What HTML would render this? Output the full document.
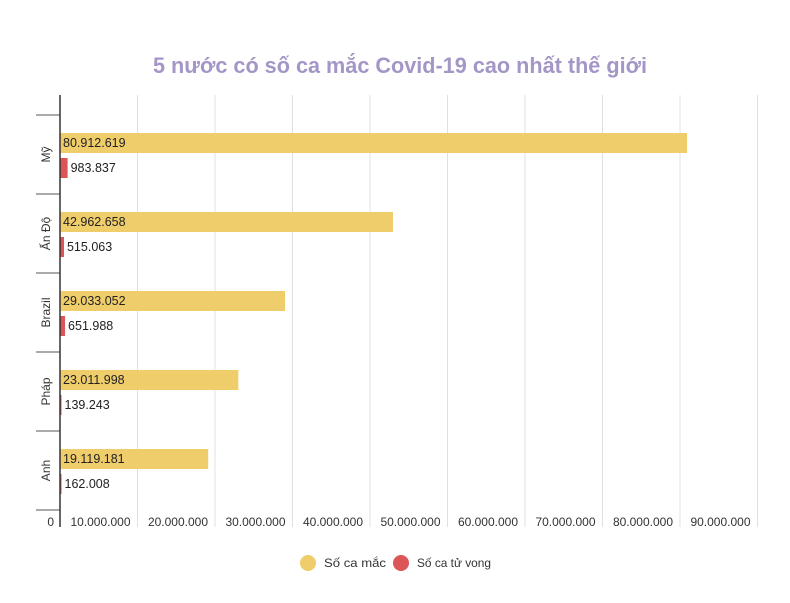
<!DOCTYPE html>
<html><head><meta charset="utf-8"><style>body{margin:0;background:#fff}svg{display:block;font-family:"Liberation Sans",sans-serif}</style></head>
<body>
<svg id="chart" width="790" height="603" xmlns="http://www.w3.org/2000/svg">
<text x="400" y="73" text-anchor="middle" font-size="22" font-weight="bold" fill="#a496c6" textLength="494" lengthAdjust="spacingAndGlyphs">5 nước có số ca mắc Covid-19 cao nhất thế giới</text>
<g id="grid"></g><g id="bars"></g><g id="axes"></g>
<g>
<circle cx="308" cy="563" r="8" fill="#efcd6b"/><text x="324" y="567" font-size="12" fill="#333" textLength="62" lengthAdjust="spacingAndGlyphs">Số ca mắc</text>
<circle cx="401" cy="563" r="8" fill="#dc5557"/><text x="417" y="567" font-size="12" fill="#333" textLength="74" lengthAdjust="spacingAndGlyphs">Số ca tử vong</text>
</g>
</svg>
<script>
const categories=["Mỹ","Ấn Độ","Brazil","Pháp","Anh"];
const cases=[80912619,42962658,29033052,23011998,19119181];
const deaths=[983837,515063,651988,139243,162008];
const caseLabels=["80.912.619","42.962.658","29.033.052","23.011.998","19.119.181"];
const deathLabels=["983.837","515.063","651.988","139.243","162.008"];
const ticks=[0,10000000,20000000,30000000,40000000,50000000,60000000,70000000,80000000,90000000];
const tickLabels=["0","10.000.000","20.000.000","30.000.000","40.000.000","50.000.000","60.000.000","70.000.000","80.000.000","90.000.000"];
const NS="http://www.w3.org/2000/svg";
const x0=60,pxPer=7.75e-6,yTop=115,band=79;
const X=v=>x0+v*pxPer;
function mk(tag,attrs,parent,txt){const e=document.createElementNS(NS,tag);for(const k in attrs)e.setAttribute(k,attrs[k]);if(txt!=null)e.textContent=txt;parent.appendChild(e);return e;}
const g=document.getElementById('grid'),b=document.getElementById('bars'),a=document.getElementById('axes');
ticks.forEach((t,i)=>{
 if(i>0){const l=mk('line',{x1:X(t),x2:X(t),y1:95,y2:527,stroke:'#e0e0e0'},g);
 
 }
 const tx=mk('text',{x:i==0?54:X(t)-7,y:526,'text-anchor':'end','font-size':12,fill:'#333'},g,tickLabels[i]);
 
 
});
categories.forEach((c,i)=>{
 const y=yTop+i*band;
 const r1=mk('rect',{x:x0,y:y+18,width:X(cases[i])-x0,height:20,fill:'#efcd6b'},b);
 
 
 mk('text',{x:x0+3,y:y+32,'font-size':12.5,fill:'#222'},b,caseLabels[i]);
 const w=Math.max(X(deaths[i])-x0,1.5);
 const r2=mk('rect',{x:x0,y:y+43,width:w,height:20,fill:'#dc5557'},b);
 
 
 mk('text',{x:x0+w+3,y:y+57,'font-size':12.5,fill:'#222'},b,deathLabels[i]);
 const sep=mk('line',{x1:36,x2:x0,y1:y,y2:y,stroke:'#555'},a);
 
 
 const cy=y+band/2;
 const lab=mk('text',{x:50,y:cy,'text-anchor':'middle','font-size':12,fill:'#333',transform:`rotate(-90 50 ${cy})`},a,c);
 
 
});
mk('line',{x1:36,x2:x0,y1:yTop+5*band,y2:yTop+5*band,stroke:'#555'},a);
const ax=mk('line',{x1:x0,x2:x0,y1:95,y2:527,stroke:'#333','stroke-width':1.5},a);


</script>
</body></html>
